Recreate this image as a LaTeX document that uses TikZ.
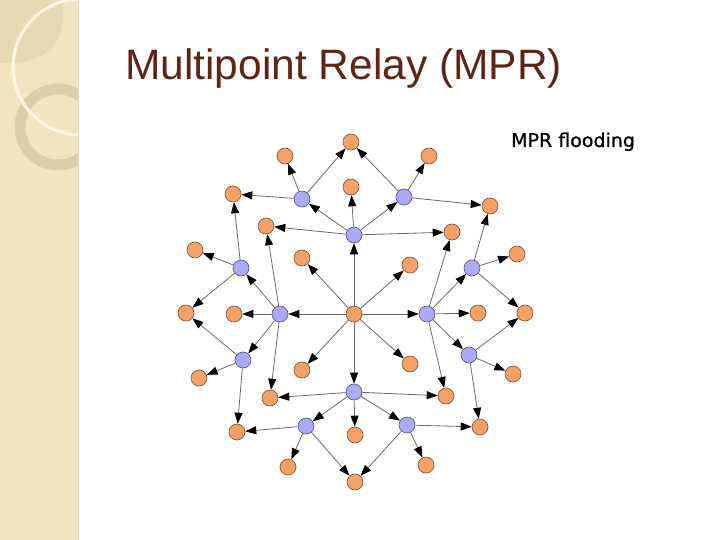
\documentclass[tikz,border=0pt]{standalone}
\usepackage{fontspec}
\setmainfont{Liberation Sans}
\newfontfamily\labelfont[FakeBold=0.9]{DejaVu Sans}
\usetikzlibrary{arrows.meta}
\definecolor{nodeor}{RGB}{245,160,102}
\definecolor{nodebl}{RGB}{172,170,245}
\definecolor{orborder}{RGB}{120,80,50}
\definecolor{blborder}{RGB}{80,80,130}
\definecolor{titlebrown}{RGB}{94,36,20}
\definecolor{stripbg}{RGB}{242,228,193}
\definecolor{stripdark}{RGB}{232,216,180}
\definecolor{stripring}{RGB}{218,204,168}
\definecolor{stripline}{RGB}{232,218,185}
\definecolor{whitearc}{RGB}{253,247,228}
\definecolor{edgegray}{RGB}{105,105,105}
\tikzset{
  onode/.style={circle, draw=orborder, fill=nodeor, line width=0.6pt, minimum size=16pt, inner sep=0pt},
  bnode/.style={circle, draw=blborder, fill=nodebl, line width=0.6pt, minimum size=16pt, inner sep=0pt},
  edge/.style={draw=edgegray, line width=0.8pt, -{Triangle[length=11pt,width=8pt,color=black]}}
}
\begin{document}
\begin{tikzpicture}[x=1pt,y=-1pt]
\useasboundingbox (0,0) rectangle (720,540);
\fill[white] (0,0) rectangle (720,540);
% decorative strip
\begin{scope}
\clip (0,0) rectangle (78,540);
\fill[stripbg] (0,0) rectangle (78,540);
\fill[stripdark] (0,0) -- (63,0) -- (63,22) .. controls (60,48) and (40,62) .. (10,63) -- (0,63) -- cycle;
\draw[stripring, line width=11pt, opacity=0.9] (58,127) circle[radius=38];
\draw[whitearc, line width=3pt] (81,67) circle[radius=68];
\end{scope}
\draw[stripline, line width=1pt] (78,0) -- (78,540);
% title and label
\node[anchor=base west, text=titlebrown, font=\fontsize{42.5}{50}\selectfont, inner sep=0pt] (title) at (125,80) {Multipoint Relay (MPR)};
\node[anchor=base west, text=black, font=\labelfont\fontsize{19}{22}\selectfont, inner sep=0pt] (lbl) at (511,147) {MPR flooding};
% nodes
\node[onode] (c) at (354,314) {};
\node[onode] (t1) at (351,142) {};
\node[onode] (t2) at (285,156) {};
\node[onode] (t3) at (429,156) {};
\node[onode] (t4) at (351,187) {};
\node[bnode] (b1) at (302,199) {};
\node[bnode] (b2) at (404,197) {};
\node[onode] (o5) at (233,194) {};
\node[onode] (o6) at (490,206) {};
\node[onode] (o7) at (266,226) {};
\node[bnode] (b3) at (354,235) {};
\node[onode] (o8) at (452,232) {};
\node[onode] (o9) at (195,250) {};
\node[bnode] (b4) at (241,268) {};
\node[onode] (o10) at (302,258) {};
\node[onode] (o11) at (410,265) {};
\node[bnode] (b5) at (472,268) {};
\node[onode] (o12) at (517,254) {};
\node[onode] (o13) at (186,313) {};
\node[onode] (o14) at (234,314) {};
\node[bnode] (b6) at (280,314) {};
\node[bnode] (b7) at (427,314) {};
\node[onode] (o15) at (478,313) {};
\node[onode] (o16) at (525,313) {};
\node[bnode] (b8) at (243,360) {};
\node[onode] (o17) at (199,378) {};
\node[onode] (o18) at (302,370) {};
\node[onode] (o19) at (410,364) {};
\node[bnode] (b9) at (469,355) {};
\node[onode] (o20) at (513,374) {};
\node[bnode] (b10) at (354,392) {};
\node[onode] (o21) at (270,398) {};
\node[onode] (o22) at (446,396) {};
\node[bnode] (b11) at (306,426) {};
\node[bnode] (b12) at (407,425) {};
\node[onode] (o23) at (237,432) {};
\node[onode] (o24) at (480,427) {};
\node[onode] (o25) at (355,435) {};
\node[onode] (o26) at (288,467) {};
\node[onode] (o27) at (426,465) {};
\node[onode] (o28) at (355,482) {};
% edges
\foreach \a/\b in {c/b3, c/b6, c/b7, c/b10, c/o10, c/o11, c/o18, c/o19,
  b3/b1, b3/b2, b3/t4, b3/o7, b3/o8,
  b1/t1, b1/t2, b1/o5,
  b2/t1, b2/t3, b2/o6,
  b6/b4, b6/b8, b6/o14, b6/o7, b6/o21,
  b4/o5, b4/o9, b4/o13,
  b8/o13, b8/o17, b8/o23,
  b7/b5, b7/b9, b7/o15, b7/o8, b7/o22,
  b5/o6, b5/o12, b5/o16,
  b9/o16, b9/o20, b9/o24,
  b10/b11, b10/b12, b10/o25, b10/o21, b10/o22,
  b11/o23, b11/o26, b11/o28,
  b12/o24, b12/o27, b12/o28}
  \draw[edge] (\a) -- (\b);
\end{tikzpicture}
\end{document}
